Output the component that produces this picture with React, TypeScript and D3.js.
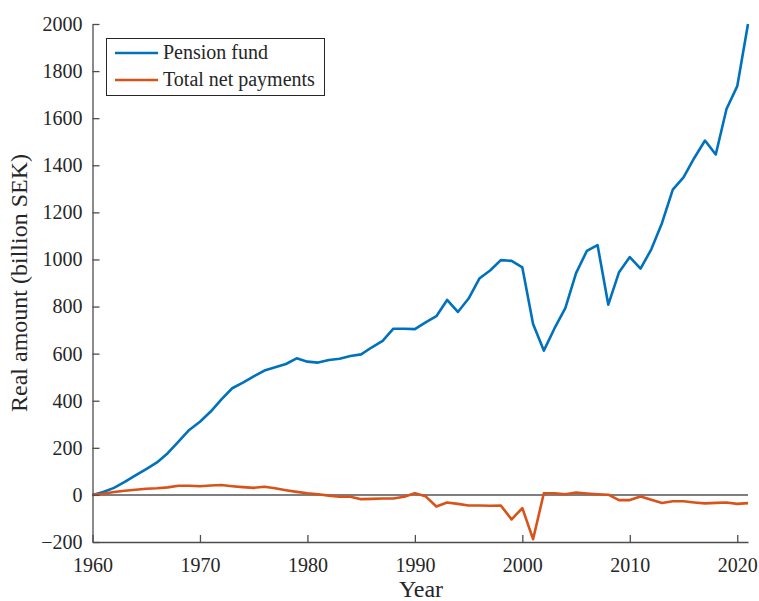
import { useEffect, useRef } from 'react';
import * as d3 from 'd3';

const years = d3.range(1960, 2022);

// billion SEK, real terms
const pensionFund = [
  0, 12, 30, 55, 83, 110, 138, 177, 226, 276,
  311, 354, 406, 453, 477, 503, 528, 542, 556, 580,
  566, 562, 573, 578, 590, 597, 627, 654, 706, 706,
  704, 733, 759, 828, 777, 834, 919, 953, 997, 994,
  966, 726, 613, 708, 793, 942, 1036, 1061, 808, 946,
  1010, 961, 1043, 1155, 1297, 1349, 1431, 1505, 1446, 1639,
  1736, 2000
];

const netPayments = [
  0, 5, 12, 18, 22, 26, 28, 32, 39, 39,
  37, 40, 42, 37, 33, 30, 35, 28, 20, 13,
  7, 3, -3, -8, -8, -18, -17, -15, -15, -8,
  7, -6, -49, -32, -38, -45, -45, -46, -45, -104,
  -56, -188, 7, 7, 3, 10, 6, 3, 1, -22,
  -22, -7, -21, -34, -27, -27, -32, -36, -34, -32,
  -38, -35
];

const xTicks = [1960, 1970, 1980, 1990, 2000, 2010, 2020];
const yTicks = [-200, 0, 200, 400, 600, 800, 1000, 1200, 1400, 1600, 1800, 2000];

const seriesNames = ['Pension fund', 'Total net payments'];
const seriesColors = ['#0072BD', '#D95319'];

export default function App() {
  const svgRef = useRef<SVGSVGElement>(null);

  useEffect(() => {
    if (!svgRef.current) return;
    const svg = d3.select(svgRef.current);
    svg.selectAll('*').remove();

    const left = 92.5;
    const right = 748;
    const top = 24;
    const bottom = 542;
    const font = 'Liberation Serif, serif';
    const axisColor = '#4d4d4d';
    const textColor = '#262626';

    const x = d3.scaleLinear().domain([1960, 2021]).range([left, right]);
    const y = d3.scaleLinear().domain([-200, 2000]).range([bottom, top]);

    // zero line
    svg.append('line')
      .attr('x1', x(1960)).attr('x2', x(2021))
      .attr('y1', y(0)).attr('y2', y(0))
      .attr('stroke', '#555').attr('stroke-width', 1.5);

    // series
    const allSeries = [pensionFund, netPayments];
    allSeries.forEach((vals, i) => {
      const line = d3.line<number>()
        .x((_, j) => x(years[j]))
        .y((d) => y(d));
      svg.append('path')
        .datum(vals)
        .attr('fill', 'none')
        .attr('stroke', seriesColors[i])
        .attr('stroke-width', 2.6)
        .attr('stroke-linejoin', 'round')
        .attr('d', line);
    });

    // axes (MATLAB style, inward ticks)
    const yAxis = svg.append('g')
      .attr('transform', `translate(${left},0)`)
      .call(d3.axisLeft(y).tickValues(yTicks).tickSize(-7).tickSizeOuter(0).tickPadding(10).tickFormat(d3.format('d')));
    const xAxis = svg.append('g')
      .attr('transform', `translate(0,${bottom})`)
      .call(d3.axisBottom(x).tickValues(xTicks).tickSize(-7).tickSizeOuter(0).tickPadding(16).tickFormat(d3.format('d')));

    [yAxis, xAxis].forEach((ax) => {
      ax.attr('font-family', font).attr('font-size', 20);
      ax.select('.domain').attr('stroke', axisColor).attr('stroke-width', 1.3);
      ax.selectAll('.tick line').attr('stroke', axisColor).attr('stroke-width', 1.3);
      ax.selectAll('.tick text').attr('fill', textColor);
    });

    // axis labels
    svg.append('text')
      .attr('x', 421).attr('y', 597)
      .attr('text-anchor', 'middle')
      .attr('fill', textColor)
      .attr('font-family', font).attr('font-size', 24)
      .text('Year');
    svg.append('text')
      .attr('transform', `translate(27,${(top + bottom) / 2}) rotate(-90)`)
      .attr('text-anchor', 'middle')
      .attr('fill', textColor)
      .attr('font-family', font).attr('font-size', 24)
      .text('Real amount (billion SEK)');

    // legend
    const lg = svg.append('g');
    lg.append('rect')
      .attr('x', 106.5).attr('y', 38.5).attr('width', 218).attr('height', 57)
      .attr('fill', '#fff').attr('stroke', '#262626').attr('stroke-width', 1);
    seriesNames.forEach((name, i) => {
      const ly = 53 + i * 27;
      lg.append('line')
        .attr('x1', 115).attr('x2', 158).attr('y1', ly).attr('y2', ly)
        .attr('stroke', seriesColors[i]).attr('stroke-width', 2.6);
      lg.append('text')
        .attr('x', 163).attr('y', ly + 6)
        .attr('fill', textColor)
        .attr('font-family', font).attr('font-size', 20)
        .text(name);
    });
  }, []);

  return (
    <svg
      ref={svgRef}
      width={759}
      height={601}
      style={{ position: 'absolute', left: 0, top: 0, background: '#fff' }}
    />
  );
}
